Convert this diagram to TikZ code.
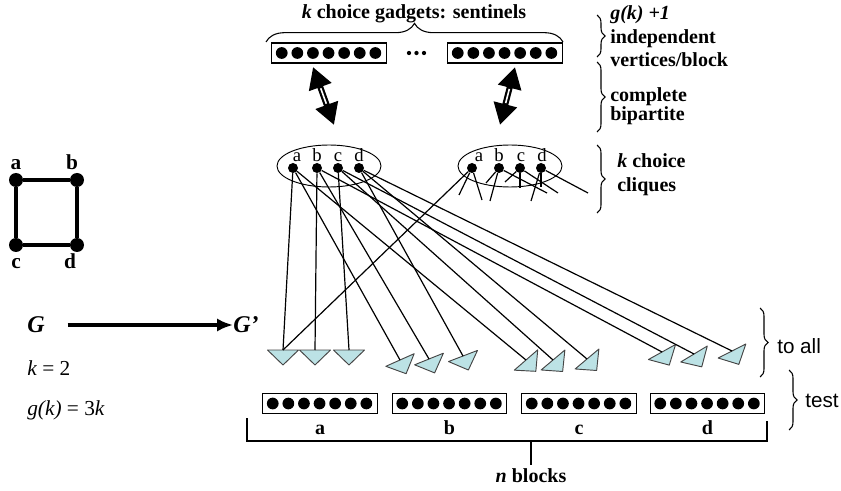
\documentclass[tikz,border=0pt]{standalone}
\usepackage{fontspec}
\setmainfont{Liberation Serif}
\setsansfont{Liberation Sans}
\usepackage{xcolor}
\usepackage{tikz}
\usetikzlibrary{calc}
\usetikzlibrary{arrows.meta}
\usetikzlibrary{shapes,arrows,positioning,decorations.pathreplacing}
\definecolor{triblue}{RGB}{188,226,229}
\definecolor{trigray}{RGB}{70,70,70}

\begin{document}
\begin{tikzpicture}[x=0.75pt,y=-0.75pt,
	box/.style={draw,line width=0.9pt,minimum width=86pt,minimum height=15pt,inner sep=0pt},
	dot/.style={circle,fill,inner sep=0pt,minimum size=7.5pt},
	bigdot/.style={circle,fill,inner sep=0pt,minimum size=10.5pt},
	edge/.style={line width=0.9pt},
	tri/.style={fill=triblue,draw=trigray,line width=0.7pt,line join=round},
	lbl/.style={font=\fontsize{15}{18}\selectfont\bfseries,inner sep=0pt},
	clab/.style={font=\fontsize{14}{16}\selectfont,inner sep=0pt},
	sans/.style={font=\fontsize{15.5}{18}\selectfont\sffamily,inner sep=0pt,anchor=base west},
	rbrace/.style={decorate,decoration={brace,amplitude=6pt},line width=0.8pt},
	clique/.style={draw,ellipse,line width=0.7pt,minimum width=78pt,minimum height=31.5pt}]
	\useasboundingbox (0,0) rectangle (841,491);

	% the small graph G
	\node[bigdot] (ga) at (16,180) {};
	\node[bigdot] (gb) at (77,180) {};
	\node[bigdot] (gc) at (16,245) {};
	\node[bigdot] (gd) at (77,245) {};
	\draw[line width=2.4pt] (ga) -- (gb) -- (gd) -- (gc) -- (ga);
	\node[lbl,font=\fontsize{16}{18}\selectfont\bfseries,anchor=base] (gla) at (16,170) {a};
	\node[lbl,font=\fontsize{16}{18}\selectfont\bfseries,anchor=base] (glb) at (72,170) {b};
	\node[lbl,font=\fontsize{16}{18}\selectfont\bfseries,anchor=base] (glc) at (16,268) {c};
	\node[lbl,font=\fontsize{16}{18}\selectfont\bfseries,anchor=base] (gld) at (70,268) {d};

	% G maps to G'
	\node[inner sep=0pt,font=\fontsize{18}{20}\selectfont\bfseries\itshape] (G) at (36,325) {G};
	\node[inner sep=0pt,font=\fontsize{18}{20}\selectfont\bfseries\itshape,anchor=west] (G2) at (233,325) {G'};
	\draw[line width=3.5pt,-{Latex[length=12pt,width=10pt]},shorten <=17pt] (G) -- (G2);
	\node[anchor=base west,inner sep=0pt,font=\fontsize{16}{18}\selectfont] (kval) at (27,375) {\textit{k} = 2};
	\node[anchor=base west,inner sep=0pt,font=\fontsize{16}{18}\selectfont] (gval) at (27,415) {\textit{g(k)} = 3\textit{k}};

	% choice gadgets (sentinels) and test blocks
	\node[box] (s1) at (329,53) {};
	\node[box] (s2) at (505,53) {};
	\node[box] (ta) at (320,403.5) {};
	\node[box] (tb) at (449.5,403.5) {};
	\node[box] (tc) at (579,403.5) {};
	\node[box] (td) at (707.5,403.5) {};
	\foreach \b in {s1,s2,ta,tb,tc,td}
		\foreach \i in {0,...,6}
			\fill ($(\b.west)+(8pt+11.7pt*\i,0pt)$) circle (4.4pt);
	\fill (409,53) circle (1.6pt) (416.5,53) circle (1.6pt) (424,53) circle (1.6pt);
	\draw[decorate,decoration={brace,amplitude=14pt},line width=0.8pt] (266,42) -- (563,42);
	\node[lbl,anchor=base] (gadg) at (414,19) {\textit{k} choice gadgets: sentinels};

	% complete bipartite links
	\coordinate (u1) at (313,67);
	\coordinate (v1) at (334,125);
	\coordinate (u2) at (515,67);
	\coordinate (v2) at (500,125);
	\foreach \u/\v in {u1/v1,u2/v2}{
		\draw[line width=4.5pt,{Triangle[length=16pt,width=17pt]}-{Triangle[length=16pt,width=17pt]}] (\u) -- (\v);
		\draw[white,line width=1.2pt,shorten <=17pt,shorten >=17pt] (\u) -- (\v);
	}

	% choice cliques
	\node[clique] (q1) at (329,166) {};
	\node[clique] (q2) at (510,166) {};
	\foreach \n/\x/\y/\t/\s in {qa/293/168/a/4,qb/317/168/b/0,qc/338/168/c/0,qd/359/168/d/0,ra/472/168/a/7,rb/499/168/b/0,rc/520/168/c/1,rd/541/168/d/1}{
		\node[dot] (\n) at (\x,\y) {};
		\node[clab,above=0.5pt of \n,xshift=\s*0.75pt] (\n-t) {\t};
	}

	% test triangles: base midpoint and tilt
	\foreach \n/\x/\y/\r in {a1/283/350/0,a2/315/350/0,a3/349/350/0,b1/400/360/24,b2/429/359/22,b3/463/356/21,c1/526/360/41,c2/553/360/40,c3/587/359/40,d1/662/352/29,d2/694/354/31,d3/732/351/27}{
		\filldraw[tri,rotate around={\r:(\x,\y)}] (\x-15.5,\y) -- (\x+15.5,\y) -- (\x,\y+15) -- cycle;
		\coordinate (\n) at (\x,\y);
	}
	\foreach \s/\t in {qa/a1,qa/b1,qa/c1,qb/a2,qb/b2,qb/d1,qc/a3,qc/c2,qc/d2,qd/b3,qd/c3,qd/d3,ra/a1}
		\draw[edge] (\s) -- (\t);
	\foreach \s/\dx/\dy in {ra/-13/27,ra/10/32,rb/-9/33,rb/-13/15,rb/48/25,rc/-15/14,rc/0/20,rc/38/25,rd/-10/33,rd/0/19,rd/47/25}
		\draw[edge] (\s) -- ++(\dx,\dy);

	% block names and the n blocks bracket
	\node[lbl,anchor=base] (na) at ($(ta.south)+(0,20)$) {a};
	\node[lbl,anchor=base] (nb) at ($(tb.south)+(0,20)$) {b};
	\node[lbl,anchor=base] (nc) at ($(tc.south)+(0,20)$) {c};
	\node[lbl,anchor=base] (nd) at ($(td.south)+(0,20)$) {d};
	\draw[edge] (247,418) -- (247,441) -- (767,441) -- (767,421);
	\coordinate (bt) at (531,441);
	\coordinate (bb) at (531,465);
	\draw[edge] (bt) -- (bb);
	\node[lbl,anchor=base] (nblk) at (531,482) {\textit{n} blocks};

	% right hand remarks
	\draw[rbrace] (597,15) -- (597,57);
	\draw[rbrace] (597,62) -- (597,132);
	\draw[rbrace] (597,145) -- (597,213);
	\draw[rbrace] (760,308) -- (760,377);
	\draw[rbrace] (789,370) -- (789,430);
	\node[lbl,anchor=base west] (r1) at (610,20) {\textit{g(k) +1}};
	\node[lbl,anchor=base west] (r2) at (610,44) {independent};
	\node[lbl,anchor=base west] (r3) at (610,67) {vertices/block};
	\node[lbl,anchor=base west] (r4) at (610,102) {complete};
	\node[lbl,anchor=base west] (r5) at (610,121) {bipartite};
	\node[lbl,anchor=base west] (r6) at (617,168) {\textit{k} choice};
	\node[lbl,anchor=base west] (r7) at (617,192) {cliques};
	\node[sans] (toall) at (777,353) {to all};
	\node[sans] (test) at (805,407) {test};
\end{tikzpicture}
\end{document}
